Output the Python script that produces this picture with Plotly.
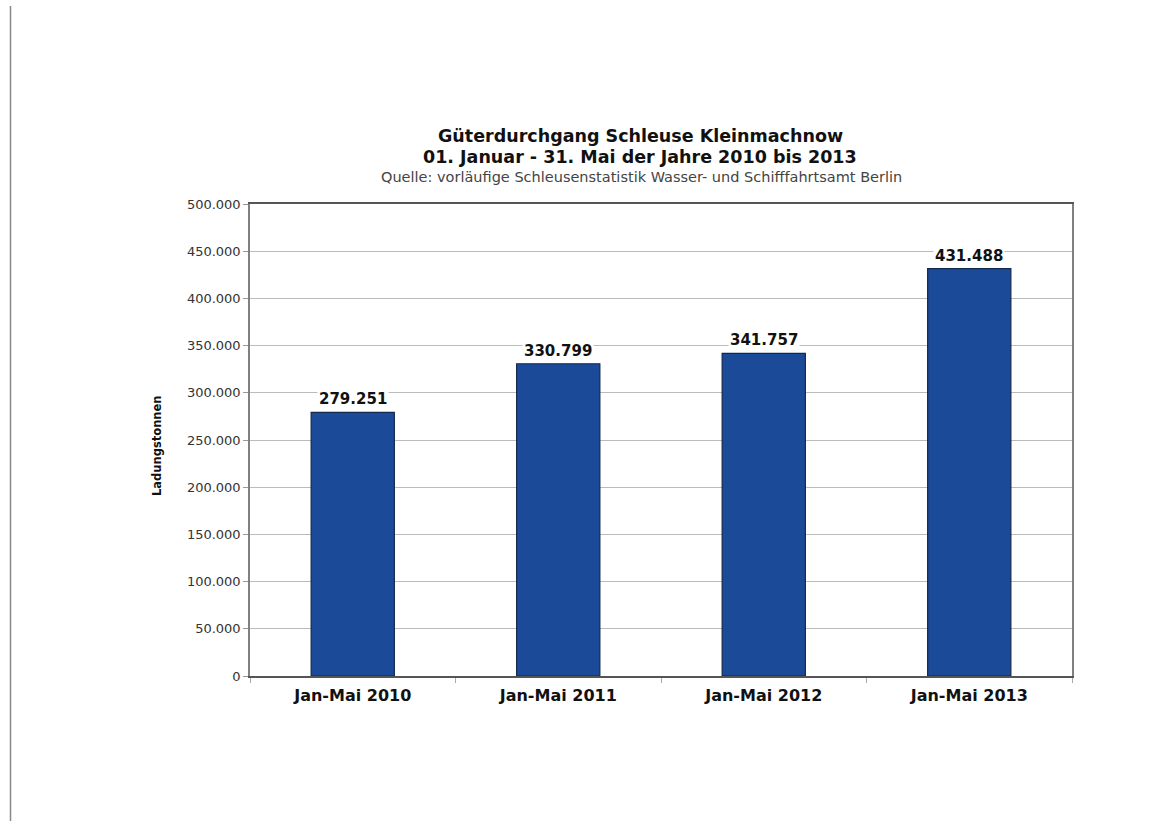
import plotly.graph_objects as go

categories = ["Jan-Mai 2010", "Jan-Mai 2011", "Jan-Mai 2012", "Jan-Mai 2013"]
values = [279251, 330799, 341757, 431488]
y_ticks = [0, 50000, 100000, 150000, 200000, 250000, 300000, 350000, 400000, 450000, 500000]

W, H = 1157, 821
L, R, T, B = 250, 85, 204, 145
pw = W - L - R
ph = H - T - B

def px_x(x):
    return (x - L) / pw

def px_y(y):
    return (H - B - y) / ph

FONT = "DejaVu Sans"

fig = go.Figure()
fig.add_trace(go.Bar(
    x=categories, y=values, width=0.405,
    marker=dict(color="#1b4a98", line=dict(color="#13284f", width=1.2)),
    hoverinfo="x+y",
))

for c, v in zip(categories, values):
    fig.add_annotation(x=c, y=v, text="<b>%s</b>" % f"{v:,}".replace(",", "."),
                       showarrow=False, yanchor="bottom", yshift=2,
                       font=dict(family=FONT, size=15, color="#111111"),
                       bgcolor="white", borderpad=1)

fig.add_annotation(xref="paper", yref="paper", x=px_x(640), y=px_y(136),
                   xanchor="center", yanchor="middle",
                   text="<b>Güterdurchgang Schleuse Kleinmachnow</b>", showarrow=False,
                   font=dict(family=FONT, size=17.5, color="#111111"))
fig.add_annotation(xref="paper", yref="paper", x=px_x(640), y=px_y(156.5),
                   xanchor="center", yanchor="middle",
                   text="<b>01. Januar - 31. Mai der Jahre 2010 bis 2013</b>", showarrow=False,
                   font=dict(family=FONT, size=17.5, color="#111111"))
fig.add_annotation(xref="paper", yref="paper", x=px_x(641), y=px_y(177),
                   xanchor="center", yanchor="middle",
                   text="Quelle: vorläufige Schleusenstatistik Wasser- und Schifffahrtsamt Berlin", showarrow=False,
                   font=dict(family=FONT, size=14.5, color="#444444"))
fig.add_annotation(xref="paper", yref="paper", x=px_x(157), y=px_y(446),
                   xanchor="center", yanchor="middle",
                   text="<b>Ladungstonnen</b>", showarrow=False, textangle=-90,
                   font=dict(family=FONT, size=11.5, color="#111111"))

# left page border line
fig.add_shape(type="line", xref="paper", yref="paper",
              x0=px_x(10.5), x1=px_x(10.5), y0=px_y(6), y1=px_y(821),
              line=dict(color="#888888", width=1.5))

fig.update_layout(
    width=W, height=H,
    margin=dict(l=L, r=R, t=T, b=B, autoexpand=False),
    paper_bgcolor="white", plot_bgcolor="white",
    separators=",.",
    showlegend=False,
    xaxis=dict(
        showline=True, linecolor="#555555", linewidth=1.5, mirror=True,
        ticks="outside", tickson="boundaries", ticklen=5, tickcolor="#aaaaaa",
        tickfont=dict(family=FONT, size=16, color="#111111"),
        tickprefix="<b>", ticksuffix="</b>", ticklabelstandoff=4,
    ),
    yaxis=dict(
        range=[0, 500000], tickvals=y_ticks, tickformat=",d",
        showline=True, linecolor="#808080", linewidth=1.5, mirror=True,
        ticks="outside", ticklen=5, tickcolor="#999999",
        gridcolor="#bbbbbb", gridwidth=1,
        tickfont=dict(family=FONT, size=13, color="#333333"),
        zeroline=False,
    ),
)

fig.write_html("out.html")
